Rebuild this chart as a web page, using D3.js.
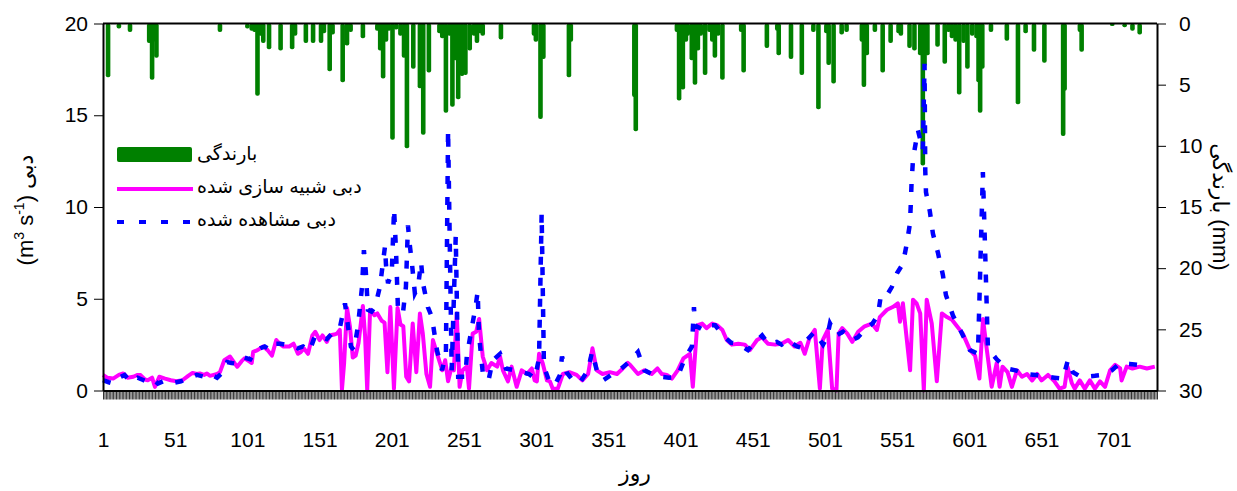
<!DOCTYPE html>
<html>
<head>
<meta charset="utf-8">
<script src="https://cdn.jsdelivr.net/npm/d3@7"></script>
<style>
  body { margin: 0; background: #fff; }
  text { font-family: "Liberation Sans", Arial, "DejaVu Sans", sans-serif; fill: #000; }
</style>
</head>
<body>
<div id="chart"></div>
<script>
// DATA.
// rainfall: [day, mm]
const rain = [
  [4.5,4.4],[12,0.4],[19.7,0.7],[33,1.6],[35,4.6],[36,1.5],[38,2.8],[82,0.7],[101,0.4],[104,0.6],
  [106,0.7],[108,5.9],[110,1.0],[112,1.6],[116,2.1],[124,2.2],[132,2.1],[134,1.0],[141.5,1.6],
  [146.5,1.6],[152,1.6],[154,0.8],[158,3.9],[160,0.9],[167,4.8],[170,1.8],[172.5,0.7],[181,1.2],
  [191,0.6],[193,2.2],[195,4.5],[197,1.5],[199,0.6],[201.5,9.5],[204,0.5],[207,1.0],[209.5,2.8],
  [211.5,10.2],[215.9,3.7],[220.5,5.3],[222.8,9.1],[226.7,4.0],[234,0.8],[236,1.2],[238.5,7.3],
  [241,1.0],[243,6.8],[245,3.0],[247,6.2],[249.6,4.3],[252,4.2],[255,2.2],[258,1.0],[260,1.6],
  [262,0.8],[264,1.0],[276.6,1.3],[299.5,1.0],[300.8,1.5],[304,7.8],[306,2.9],[323.7,4.4],[325,1.5],
  [369,6.0],[370,8.8],[398.5,0.7],[400,6.3],[402.6,5.4],[404.7,1.5],[406,1.0],[408.8,3.0],[411,5.0],
  [413,2.2],[415,1.0],[418,4.2],[421,0.7],[423,1.5],[424.8,2.8],[427,1.0],[430,4.6],[443,0.7],
  [444.7,4.0],[460.8,2.0],[468,0.6],[469,2.6],[477.5,2.9],[485,4.2],[493,0.7],[496.5,7.0],[502,0.8],
  [503.6,3.4],[507,4.9],[512.6,0.9],[516,0.7],[526.6,1.5],[528,5.2],[530,2.6],[535.6,0.7],[541,4.0],
  [546.5,1.6],[552,0.8],[553.6,1.0],[559.6,2.0],[563,2.2],[567,2.6],[568.8,11.6],[570,3.5],[572,2.6],
  [579,1.9],[584,3.3],[586.6,0.7],[589,1.2],[591.5,1.5],[594,5.8],[597,1.6],[599.7,3.7],[603,1.0],
  [606,1.2],[607.4,4.8],[608.5,7.3],[610,3.7],[616,0.7],[627,1.4],[634.7,6.6],[640,0.8],[645.8,2.3],
  [653,3.2],[666,9.2],[667,5.5],[677.6,0.7],[678.8,2.3],[700,0.2],[708.6,0.3],[714,0.6],[719,0.9]
];

// simulated discharge: [day, m3/s]
const simulated = [
  [1,0.84],[4,0.7],[8,0.65],[12,0.85],[15,0.93],[18,0.7],[22,0.75],[25,0.85],[27,0.84],[30,0.6],
  [32,0.56],[35,0.7],[37,0.2],[40,0.75],[44,0.65],[48,0.56],[52,0.5],[56,0.56],[60,0.8],[63,0.96],
  [66,0.9],[68,0.93],[71,0.85],[73,0.93],[75,0.8],[77,0.84],[80,0.9],[82,1.0],[85,1.65],[89,1.85],
  [92,1.5],[94,1.3],[97,1.6],[99,1.75],[102,1.6],[104,1.5],[105,2.1],[108,2.2],[112,2.4],[115,2.2],
  [118,1.9],[121,2.75],[124,2.5],[126,2.4],[130,2.4],[133,2.55],[136,2.0],[138,2.1],[140,2.3],
  [143,2.0],[146,3.0],[148,3.2],[151,2.75],[153,3.0],[156,2.65],[158,3.0],[161,3.05],[163,3.1],
  [165,3.3],[166.5,0.05],[168,1.5],[170,4.5],[172,3.5],[174,1.8],[176,1.9],[178,2.6],[181,4.6],
  [182.5,3.0],[184,0.0],[186,4.4],[189,4.1],[191,4.2],[194,3.8],[196,3.7],[198,1.0],[200,4.55],
  [202.5,0.1],[205,4.5],[207,3.6],[209,3.5],[211,0.75],[213,0.5],[215.5,3.65],[218,1.0],[220.5,4.2],
  [222.5,3.1],[225,0.9],[227.5,0.2],[229.5,2.75],[233,1.85],[236,1.1],[238,1.65],[240,0.5],
  [242.5,1.3],[244,1.1],[246,4.2],[248,0.2],[250,1.1],[253,1.3],[254.5,0.1],[257,3.1],[259.5,3.2],
  [261.5,3.9],[264,1.85],[267,1.1],[270,1.5],[274,1.3],[276,1.85],[278,1.1],[281.5,0.5],[284,1.3],
  [287.5,0.2],[291,1.1],[294.5,0.9],[298,1.2],[300,0.55],[301.5,0.5],[303,2.0],[305.5,1.5],
  [308.5,0.55],[310.5,0.5],[312.5,0.1],[316,0.1],[319.5,0.9],[324,1.0],[329,0.85],[333,0.55],
  [337,0.9],[340,2.3],[343,1.1],[347,0.9],[352,1.0],[357,0.9],[361,1.2],[364.5,1.5],[366,1.4],
  [371.5,0.9],[376,1.1],[381,0.9],[385,1.2],[388,0.9],[391.5,0.85],[395,0.65],[399,1.1],[403,1.75],
  [407.5,2.0],[409.5,0.2],[412.5,3.55],[416,3.65],[419,3.4],[423,3.65],[426.5,3.55],[430,3.3],
  [433,2.75],[436.5,2.5],[441,2.55],[445.5,2.5],[449,2.2],[454,2.75],[457.5,2.9],[461.5,2.55],
  [466.5,2.5],[471,2.55],[475.5,2.75],[480,2.4],[484,2.6],[487,2.0],[490.5,2.9],[494,3.3],
  [497.5,0.1],[499.5,2.75],[503,3.3],[506,0.1],[509,0.0],[510.5,3.1],[513,3.4],[516.5,3.1],
  [520,2.65],[524,3.2],[528.5,3.5],[533.5,3.65],[537,3.3],[539,4.0],[544,4.4],[548,4.55],
  [551.5,4.75],[553,3.75],[555,4.75],[560,1.1],[562,4.95],[564.5,4.75],[567,4.2],[569.5,0.0],
  [571.5,4.95],[575,3.65],[578.5,0.5],[582,4.2],[585.5,4.0],[589,3.85],[592.5,3.5],[596.5,3.1],
  [601.5,2.2],[605,1.9],[608,0.65],[610.5,3.9],[613,2.3],[616.5,0.2],[620,1.5],[622,0.2],[624,1.3],
  [627.5,1.0],[630.5,0.2],[634,1.1],[637.5,0.75],[641,0.9],[644.5,0.55],[648,0.9],[651,0.55],
  [655.5,0.85],[660,0.5],[663.5,0.1],[667,0.2],[669,1.3],[672,0.4],[674,0.1],[677.5,0.55],[681,0.1],
  [684.5,0.55],[688,0.1],[691.5,0.5],[695,0.2],[698.5,1.1],[702,1.4],[705.5,1.2],[706.5,0.55],
  [710,1.3],[714,1.2],[719,1.3],[724,1.2],[729.5,1.3]
];

// observed discharge: [day, m3/s]
const observed = [
  [1,0.56],[5,0.45],[8,0.38],[12,0.7],[16,0.84],[20,0.47],[25,0.7],[28,0.6],[32,0.47],[36,0.6],
  [39,0.38],[44,0.55],[50,0.42],[55,0.5],[61,0.7],[66,0.85],[71,0.75],[75,0.9],[80,0.7],[84,1.0],
  [87,1.55],[90,1.5],[94,1.45],[99,1.8],[103,1.7],[106,2.1],[110,2.3],[113,2.4],[117,2.2],[120,2.55],
  [124,2.55],[127,2.5],[132,2.45],[136,2.3],[139.5,2.4],[144,2.15],[148,3.0],[152,2.95],[156,2.8],
  [159.5,3.1],[165,3.4],[168.6,4.75],[170.7,3.5],[172.7,2.4],[174.8,2.2],[177.6,3.5],[180.4,5.65],
  [181.7,7.65],[183,6.5],[184.5,4.4],[187,4.3],[189.4,4.55],[192.8,5.65],[196.3,7.85],[197,6.85],
  [198.4,5.85],[201,6.4],[202.6,9.9],[204,7.5],[205.3,4.4],[208.7,4.2],[210.8,5.65],[212.2,9.0],
  [213.6,7.85],[215,6.9],[217,5.3],[219.2,5.65],[221.3,7.0],[222.6,5.85],[226,4.55],[228.8,4.0],
  [232.3,2.2],[235.8,1.1],[238.5,2.0],[240,14.2],[242.5,1.1],[245.3,8.4],[247,0.75],[252,0.75],
  [253,1.9],[259,4.55],[260.5,5.4],[261.4,3.1],[262.7,2.0],[264,1.0],[268,0.55],[271,1.65],[276,2.0],
  [280,1.2],[286,1.1],[291,1.0],[296,0.9],[300,0.65],[303,1.75],[304.8,9.65],[306.4,1.3],[310.5,0.4],
  [314,0.3],[317.5,0.85],[318.9,1.85],[322,1.0],[326.5,0.55],[331,0.4],[336.9,1.1],[339.7,2.1],
  [343,1.1],[347.3,0.55],[354,0.9],[360,1.2],[364.6,1.5],[371.5,2.1],[376,1.1],[381,0.9],
  [386.7,0.75],[393,0.7],[399,0.75],[404,1.75],[408.9,2.4],[410.3,4.55],[411,3.55],[416.7,3.3],
  [420,3.55],[425,3.55],[431.7,2.9],[436,2.6],[440.8,2.55],[447.7,2.2],[452,2.6],[457.5,3.0],
  [461.7,2.55],[467.6,2.65],[471,2.5],[475.5,2.75],[481.6,2.4],[485.7,2.3],[488.5,2.75],[494,3.2],
  [499.7,2.5],[502.5,2.9],[504.5,3.65],[509,3.0],[513.5,3.2],[520,2.75],[523.8,2.9],[530,3.4],
  [534,3.65],[537.7,4.1],[539.8,5.2],[544,5.2],[547.4,5.65],[551,6.4],[555,6.9],[557.7,8.0],
  [559.9,9.1],[560.5,10.2],[561,11.3],[562,12.6],[565.4,14.2],[568.8,13.1],[570,17.8],[570.5,12.0],
  [571,10.8],[573.7,9.75],[575.8,8.55],[579.3,7.5],[582.7,6.3],[584.8,5.2],[589.6,4.1],[596.6,3.0],
  [601.4,2.2],[607,2.0],[610.4,11.9],[613.9,2.3],[620,1.7],[627,1.2],[633,1.1],[639.5,0.9],
  [647,0.85],[654.7,0.75],[660,0.7],[665.8,0.65],[669.3,1.65],[672.7,1.0],[677,0.8],[681,0.75],
  [688,0.8],[693.5,0.85],[699.7,1.1],[705.4,1.5],[712,1.45],[717.7,1.4],[721,1.4],[726,1.35]
];

const xTickDays = [1, 51, 101, 151, 201, 251, 301, 351, 401, 451, 501, 551, 601, 651, 701];
const leftTicks = [0, 5, 10, 15, 20];
const rightTicks = [0, 5, 10, 15, 20, 25, 30];
const legendLabels = ["بارندگی", "دبی شبیه سازی شده", "دبی مشاهده شده"];
const xTitle = "روز";

// LAYOUT.
const width = 1237, height = 491;
const plotLeft = 103, plotRight = 1157, plotTop = 23.5, plotBottom = 390.5;
const green = "#008000", magenta = "#ff00ff", blue = "#0000ff";

const x = d3.scaleLinear().domain([1, 731]).range([plotLeft, plotRight]);
const yQ = d3.scaleLinear().domain([0, 20]).range([plotBottom, plotTop]);
const yR = d3.scaleLinear().domain([0, 30]).range([plotTop, plotBottom]);

const svg = d3.select("#chart").append("svg")
  .attr("width", width)
  .attr("height", height);

// rainfall bars hanging from the top
svg.append("g").selectAll("rect")
  .data(rain).enter()
  .append("rect")
  .attr("x", d => x(d[0]) - 2.3)
  .attr("y", plotTop)
  .attr("width", 4.6)
  .attr("height", d => yR(d[1]) - plotTop)
  .attr("rx", 2)
  .attr("fill", green);

// lines
const line = d3.line().x(d => x(d[0])).y(d => yQ(d[1]));

svg.append("path")
  .datum(simulated)
  .attr("d", line)
  .attr("fill", "none")
  .attr("stroke", magenta)
  .attr("stroke-width", 4)
  .attr("stroke-linejoin", "round");

svg.append("path")
  .datum(observed)
  .attr("d", line)
  .attr("fill", "none")
  .attr("stroke", blue)
  .attr("stroke-width", 4.5)
  .attr("stroke-dasharray", "8,13");

// AXES.
function styleAxis(g, fontSize) {
  g.select(".domain").attr("stroke", "#000").attr("stroke-width", 2);
  g.selectAll(".tick line").attr("stroke", "#000");
  g.selectAll(".tick text")
    .attr("font-size", fontSize)
    .attr("font-family", null);
}

svg.append("g")
  .attr("transform", `translate(${plotLeft},0)`)
  .call(d3.axisLeft(yQ).tickValues(leftTicks).tickSize(9).tickSizeOuter(0).tickPadding(6))
  .call(g => styleAxis(g, 21));

svg.append("g")
  .attr("transform", `translate(${plotRight},0)`)
  .call(d3.axisRight(yR).tickValues(rightTicks).tickSize(9).tickSizeOuter(0).tickPadding(13))
  .call(g => styleAxis(g, 21));

// a tick for every day
svg.append("g")
  .attr("transform", `translate(0,${plotBottom})`)
  .call(d3.axisBottom(x).tickValues(d3.range(1, 732)).tickSize(9).tickSizeOuter(0).tickFormat(""))
  .call(g => styleAxis(g, 21))
  .call(g => g.selectAll(".tick line").attr("stroke-width", 0.8));

svg.append("g")
  .attr("transform", `translate(0,${plotBottom})`)
  .call(d3.axisBottom(x).tickValues(xTickDays).tickSize(0).tickPadding(42).tickFormat(d3.format("d")))
  .call(g => styleAxis(g, 21))
  .call(g => g.select(".domain").remove());

// top frame
svg.append("line")
  .attr("x1", plotLeft).attr("x2", plotRight)
  .attr("y1", plotTop).attr("y2", plotTop)
  .attr("stroke", "#000").attr("stroke-width", 2);

// TITLES.
svg.append("text")
  .attr("x", (plotLeft + plotRight) / 2 + 5)
  .attr("y", 481)
  .attr("text-anchor", "middle")
  .attr("font-size", 22)
  .text(xTitle);

const leftTitle = svg.append("text")
  .attr("transform", "translate(33,210) rotate(-90)")
  .attr("text-anchor", "middle")
  .attr("font-size", 22);
leftTitle.append("tspan").text("(m");
leftTitle.append("tspan").attr("font-size", 14).attr("dy", -9).text("3");
leftTitle.append("tspan").attr("dy", 9).text(" s");
leftTitle.append("tspan").attr("font-size", 14).attr("dy", -9).text("-1");
leftTitle.append("tspan").attr("dy", 9).text(") دبی");

svg.append("text")
  .attr("transform", "translate(1213,207) rotate(90)")
  .attr("text-anchor", "middle")
  .attr("font-size", 22)
  .text("بارندگی (mm)");

// LEGEND.
const legend = svg.append("g");
legend.append("rect")
  .attr("x", 117).attr("y", 147)
  .attr("width", 75).attr("height", 15)
  .attr("rx", 2)
  .attr("fill", green);
legend.append("line")
  .attr("x1", 117).attr("x2", 193)
  .attr("y1", 189).attr("y2", 189)
  .attr("stroke", magenta).attr("stroke-width", 4);
legend.append("line")
  .attr("x1", 117).attr("x2", 193)
  .attr("y1", 222).attr("y2", 222)
  .attr("stroke", blue).attr("stroke-width", 4)
  .attr("stroke-dasharray", "7,15");

legend.selectAll("text.lbl")
  .data(legendLabels).enter()
  .append("text")
  .attr("class", "lbl")
  .attr("x", 197)
  .attr("y", (d, i) => [160, 193, 226][i])
  .attr("font-size", 19)
  .text(d => d);
</script>
</body>
</html>
